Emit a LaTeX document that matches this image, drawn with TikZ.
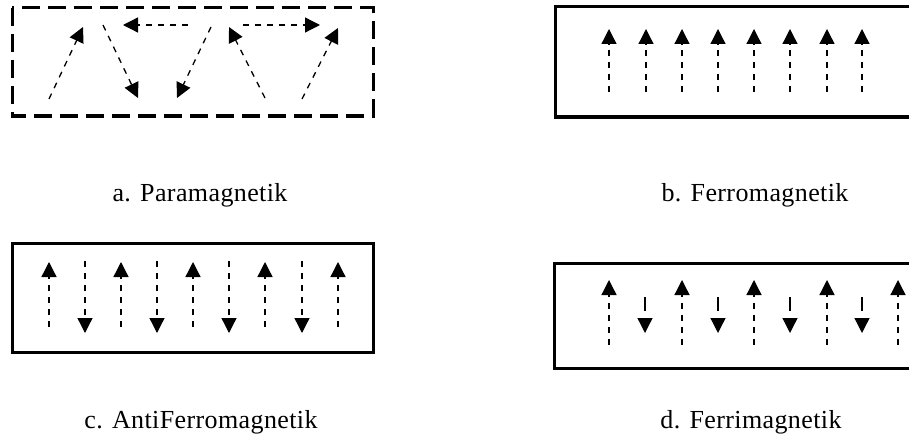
\documentclass[tikz,border=0pt]{standalone}
\usepackage{fontspec}
\setmainfont{Liberation Serif}[LetterSpace=1.5]
\usetikzlibrary{arrows.meta}

\begin{document}
\begin{tikzpicture}[x=1pt,y=-1pt,
  box/.style={line width=3pt},
  dashbox/.style={line width=3pt,dash pattern=on 18pt off 8pt},
  spin/.style={line width=1.3pt,dash pattern=on 6pt off 6pt,-{Triangle[length=15pt,width=15pt]}},
  shortspin/.style={spin,dash pattern=on 14pt off 30pt},
  caption/.style={inner sep=0pt,anchor=base,font=\fontsize{26}{30}\selectfont}]
\useasboundingbox (0,0) rectangle (909,441);
\clip (0,0) rectangle (909,441);

% a: paramagnetik
\draw[dashbox] (12,8) rectangle (373,116);
\foreach \n/\sx/\sy/\ex/\ey in {1/49/99/83/27, 2/103/25/138/98, 3/188/25/123/25, 4/211/27/177/98,
  5/265/98/229/27, 6/243/25/320/25, 7/302/99/338/28}{
  \coordinate (a\n s) at (\sx,\sy); \coordinate (a\n e) at (\ex,\ey);
  \draw[spin] (a\n s) -- (a\n e);
}
\node[caption] (capA) at (200,201) {a. Paramagnetik};

% b: ferromagnetik
\draw[box] (555,7) rectangle (940,117);
\foreach \n/\x in {1/609,2/646,3/682,4/718,5/754,6/790,7/827,8/862}{
  \coordinate (b\n s) at (\x,92); \coordinate (b\n e) at (\x,29);
  \draw[spin] (b\n s) -- (b\n e);
}
\node[caption] (capB) at (755,201) {b. Ferromagnetik};

% c: antiferromagnetik
\draw[box] (12,243) rectangle (373,352);
\foreach \n/\x in {1/49,3/121,5/193,7/265,9/338}{
  \coordinate (c\n s) at (\x,327); \coordinate (c\n e) at (\x,262);
  \draw[spin] (c\n s) -- (c\n e);
}
\foreach \n/\x in {2/85,4/157,6/229,8/302}{
  \coordinate (c\n s) at (\x,261); \coordinate (c\n e) at (\x,333);
  \draw[spin] (c\n s) -- (c\n e);
}
\node[caption] (capC) at (201,428) {c. AntiFerromagnetik};

% d: ferrimagnetik
\draw[box] (554,263) rectangle (940,368);
\foreach \n/\x in {1/609,3/682,5/754,7/827,9/898}{
  \coordinate (d\n s) at (\x,345); \coordinate (d\n e) at (\x,280);
  \draw[spin] (d\n s) -- (d\n e);
}
\foreach \n/\x in {2/645,4/718,6/790,8/862}{
  \coordinate (d\n s) at (\x,297); \coordinate (d\n e) at (\x,333);
  \draw[shortspin] (d\n s) -- (d\n e);
}
\node[caption] (capD) at (751,428) {d. Ferrimagnetik};
\end{tikzpicture}
\end{document}
